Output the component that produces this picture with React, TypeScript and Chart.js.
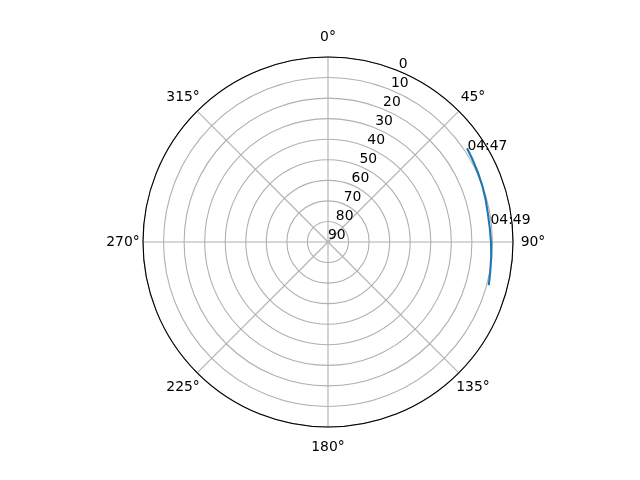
import { useEffect, useRef } from "react"
import { Chart, registerables } from "chart.js"

Chart.register(...registerables)

// Sky track: azimuth (deg, clockwise from north) and elevation (deg)
const trackAzimuth = [56, 60, 65, 70, 75, 80, 85, 90, 95, 100, 105]
const trackElevation = [8.4, 9.0, 9.6, 10.1, 10.6, 11.0, 11.0, 10.7, 10.3, 9.8, 9.0]

// Time annotations along the track
const timeLabels = ["04:47", "04:49"]
const timeLabelAz = [57.5, 84.7]
const timeLabelEl = [9.6, 10.6]

// Axis ticks
const angleTicks = [0, 45, 90, 135, 180, 225, 270, 315]
const radialTicks = [0, 10, 20, 30, 40, 50, 60, 70, 80, 90]
const degreeLabels = Array.from({ length: 360 }, (_, i) => String(i))

const FONT = '13.9px "DejaVu Sans"'
const GRID = "#b0b0b0"

// radar closes its line into a loop; this track is an open arc
const openLinePlugin = {
  id: "openLine",
  beforeDatasetsDraw(chart: any) {
    chart.getSortedVisibleDatasetMetas().forEach((meta: any) => {
      const line = meta.dataset
      if (line && line._loop) {
        line._loop = false
        delete line._segments
        delete line._path
      }
    })
  },
}

const labelsPlugin = {
  id: "polarLabels",
  afterDraw(chart: any) {
    const scale = chart.scales.r
    const ctx = chart.ctx
    const R = scale.drawingArea
    ctx.save()

    // outer spine
    ctx.strokeStyle = "#000"
    ctx.lineWidth = 1.1
    ctx.beginPath()
    ctx.arc(scale.xCenter, scale.yCenter, R, 0, Math.PI * 2)
    ctx.stroke()

    ctx.font = FONT
    ctx.fillStyle = "#000"

    // angle labels
    ctx.textAlign = "center"
    ctx.textBaseline = "middle"
    angleTicks.forEach((deg) => {
      const p = scale.getPointPosition(deg, R + 20)
      ctx.fillText(`${deg}°`, p.x, p.y)
    })

    // radial labels at 22.5°
    ctx.textAlign = "left"
    ctx.textBaseline = "bottom"
    scale.ticks.forEach((t: any) => {
      const p = scale.getPointPositionForValue(22.5, t.value)
      ctx.fillText(t.label, p.x, p.y)
    })

    // time labels
    timeLabels.forEach((txt, i) => {
      const p = scale.getPointPositionForValue(timeLabelAz[i], timeLabelEl[i])
      ctx.fillText(txt, p.x, p.y)
    })

    ctx.restore()
  },
}

function SkyPlot() {
  const chartRef = useRef<HTMLCanvasElement>(null)
  const chartInstance = useRef<Chart | null>(null)

  useEffect(() => {
    if (!chartRef.current) return
    document.body.style.margin = "0"

    if (chartInstance.current) {
      chartInstance.current.destroy()
    }

    const data = degreeLabels.map((_, i) => {
      const k = trackAzimuth.indexOf(i)
      return k >= 0 ? trackElevation[k] : null
    })

    chartInstance.current = new Chart(chartRef.current, {
      type: "radar",
      data: {
        labels: degreeLabels,
        datasets: [
          {
            data,
            borderColor: "#1f77b4",
            borderWidth: 2.1,
            pointRadius: 0,
            fill: false,
            spanGaps: true,
          },
        ],
      },
      options: {
        responsive: true,
        maintainAspectRatio: false,
        animation: false,
        layout: { padding: { left: 16, right: 0, top: 57, bottom: 53 } },
        scales: {
          r: {
            min: radialTicks[0],
            max: radialTicks[radialTicks.length - 1],
            reverse: true,
            ticks: { display: false, stepSize: 10 },
            grid: { color: GRID, lineWidth: 1.1, circular: true },
            angleLines: {
              color: GRID,
              lineWidth: (c: any) => (angleTicks.includes(c.index) ? 1.1 : 0),
            },
            pointLabels: { display: false },
          },
        },
        plugins: {
          legend: { display: false },
          tooltip: { enabled: false },
        },
      },
      plugins: [openLinePlugin, labelsPlugin],
    })

    return () => {
      if (chartInstance.current) {
        chartInstance.current.destroy()
        chartInstance.current = null
      }
    }
  }, [])

  return (
    <div style={{ width: 640, height: 480, position: "relative" }}>
      <canvas ref={chartRef} />
    </div>
  )
}

export default function App() {
  return <SkyPlot />
}
